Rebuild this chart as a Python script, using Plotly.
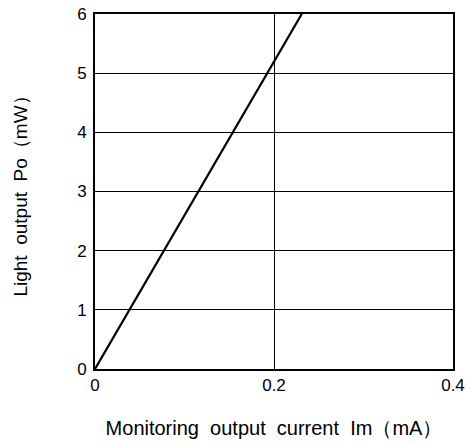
import plotly.graph_objects as go

im_ma = [0.0, 0.231]
po_mw = [0.0, 6.0]
x_ticks = [0, 0.2, 0.4]
x_tick_text = ["0", "0.2", "0.4"]
y_ticks = [0, 1, 2, 3, 4, 5, 6]

fig = go.Figure()
fig.add_trace(go.Scatter(x=im_ma, y=po_mw, mode="lines",
                         line=dict(color="black", width=2.2), showlegend=False))

fam = "Liberation Sans, Arial, sans-serif"
fig.update_layout(
    width=474, height=444,
    margin=dict(l=95, r=21, t=14, b=75),
    paper_bgcolor="white", plot_bgcolor="white",
    font=dict(family=fam, color="black", size=17),
)
fig.update_xaxes(range=[0, 0.4], tickvals=x_ticks, ticktext=x_tick_text,
                 showgrid=True, gridcolor="black", gridwidth=1,
                 showline=True, linecolor="black", linewidth=2, mirror=True,
                 ticks="", zeroline=False, automargin=False,
                 title=dict(text="Monitoring  output  current  Im（mA）", standoff=27,
                            font=dict(size=20)),
                 tickfont=dict(size=17))
fig.update_yaxes(range=[0, 6], tickvals=y_ticks,
                 showgrid=True, gridcolor="black", gridwidth=1,
                 showline=True, linecolor="black", linewidth=2, mirror=True,
                 ticks="", zeroline=False, ticklabelstandoff=3, automargin=False,
                 title=dict(text="Light  output  Po（mW）", standoff=44,
                            font=dict(size=19)),
                 tickfont=dict(size=17))
fig.write_html("out.html", config={"displayModeBar": False},
               post_script="document.body.style.margin='0';")
